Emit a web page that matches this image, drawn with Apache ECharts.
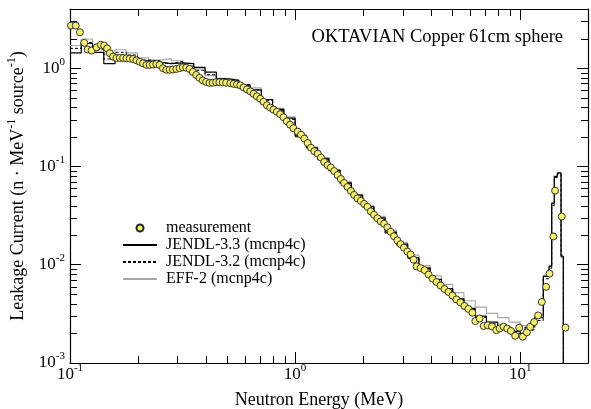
<!DOCTYPE html>
<html>
<head>
<meta charset="utf-8">
<script src="https://cdn.jsdelivr.net/npm/echarts@6/dist/echarts.min.js"></script>
<style>
  html, body { margin: 0; padding: 0; background: #fff; }
  #chart { width: 591px; height: 409px; }
</style>
</head>
<body>
<div id="chart"></div>
<script>
// Measured leakage spectrum: neutron energy (MeV) and current (n/MeV/source)
const measE = [0.101,0.106,0.1107,0.1157,0.1198,0.1247,0.1313,0.1371,0.1418,0.1462,
  0.1503,0.1554,0.1609,0.1664,0.1721,0.1781,0.1842,0.1906,0.1973,0.2041,
  0.2111,0.2185,0.2259,0.2336,0.2418,0.2501,0.2587,0.2679,0.277,0.2865,
  0.2966,0.3068,0.3172,0.3284,0.3396,0.3512,0.3636,0.3761,0.3889,0.4026,
  0.4164,0.4306,0.4457,0.4609,0.4767,0.4935,0.5156,0.5333,0.552,0.5709,
  0.5903,0.6112,0.6321,0.6537,0.6766,0.6997,0.7238,0.7495,0.7751,0.8015,
  0.8297,0.8582,0.8875,0.9188,0.9502,0.9827,1.027,1.063,1.099,1.137,
  1.176,1.217,1.260,1.303,1.347,1.394,1.442,1.491,1.544,1.597,
  1.651,1.710,1.769,1.829,1.893,1.958,2.026,2.096,2.168,2.242,
  2.322,2.401,2.483,2.569,2.658,2.749,2.846,2.944,3.044,3.152,
  3.259,3.360,3.464,3.609,3.760,3.916,4.079,4.248,4.425,4.609,
  4.801,5.000,5.207,5.424,5.650,5.884,6.129,6.318,6.600,6.878,
  7.177,7.490,7.827,8.109,8.431,8.754,9.091,9.497,9.892,10.27,
  10.70,11.07,11.53,12.01,12.47,13.03,13.49,14.04,14.28,15.29,
  15.89];
const measV = [2.71,2.71,2.32,1.81,1.55,1.51,1.63,1.73,1.70,1.59,
  1.42,1.31,1.27,1.27,1.27,1.26,1.25,1.24,1.20,1.16,
  1.12,1.08,1.08,1.09,1.10,1.08,1.00,0.963,0.963,0.970,
  0.981,1.00,1.02,1.01,0.981,0.915,0.853,0.796,0.751,0.725,
  0.708,0.711,0.720,0.720,0.716,0.711,0.703,0.692,0.684,0.668,
  0.637,0.608,0.581,0.548,0.517,0.488,0.455,0.419,0.397,0.379,
  0.360,0.340,0.317,0.288,0.266,0.245,0.226,0.210,0.192,0.173,
  0.155,0.143,0.135,0.123,0.111,0.103,0.0975,0.0898,0.0818,0.0745,
  0.0679,0.0618,0.0563,0.0513,0.0473,0.0446,0.0416,0.0388,0.0349,0.0322,
  0.0297,0.0276,0.0261,0.0240,0.0216,0.0195,0.0177,0.0162,0.0149,0.0136,
  0.0127,0.01126,0.00963,0.00924,0.00882,0.00794,0.00723,0.00666,0.00614,0.00566,
  0.00528,0.00486,0.00443,0.00413,0.00381,0.00355,0.00325,0.00267,0.00284,0.00238,
  0.00242,0.00236,0.00216,0.00225,0.00234,0.00224,0.00212,0.00189,0.00229,0.00185,
  0.00205,0.00233,0.00261,0.00305,0.00418,0.00596,0.00812,0.0194,0.0567,0.0309,
  0.00229];

// Energy bin edges (MeV) shared by the three mcnp4c tallies
const binEdges = [0.1,0.1122,0.1259,0.1413,0.1585,0.1778,0.1995,0.2239,0.2512,0.2818,
  0.3162,0.3548,0.3981,0.4467,0.5012,0.5623,0.6310,0.7079,0.7943,0.8913,
  1.0,1.122,1.259,1.413,1.585,1.778,1.995,2.239,2.512,2.818,
  3.162,3.548,3.981,4.467,5.012,5.623,6.310,7.079,7.943,8.913,
  10.0,10.5,11.0,11.6,12.66,13.43,13.8,14.17,14.62,15.18,15.54];

// Tally value in each bin
const jendl33 = [1.43,1.79,1.45,1.11,1.29,1.27,1.19,1.15,1.11,1.13,
  1.11,1.02,0.91,0.78,0.75,0.67,0.60,0.48,0.38,0.31,
  0.205,0.155,0.12,0.091,0.068,0.051,0.039,0.030,0.0215,0.0162,
  0.0118,0.0093,0.0071,0.0057,0.0045,0.0036,0.0030,0.0026,0.0023,0.0021,
  0.0020,0.0023,0.0024,0.0029,0.0076,0.0096,0.042,0.079,0.086,0.0122];
const jendl32 = [1.59,1.83,1.54,1.24,1.45,1.36,1.21,1.19,1.12,1.17,
  1.05,0.95,0.86,0.78,0.74,0.68,0.60,0.47,0.37,0.30,
  0.20,0.152,0.118,0.090,0.067,0.050,0.038,0.029,0.021,0.0158,
  0.0116,0.0091,0.0070,0.0056,0.0044,0.0035,0.0029,0.0025,0.0022,0.0020,
  0.0019,0.0021,0.0022,0.0027,0.0072,0.0092,0.040,0.077,0.084,0.0125];
const eff2 = [1.70,1.98,1.63,1.37,1.54,1.43,1.27,1.21,1.25,1.19,
  1.11,0.985,0.84,0.79,0.76,0.68,0.63,0.48,0.39,0.32,
  0.21,0.158,0.123,0.093,0.070,0.052,0.040,0.031,0.0225,0.0168,
  0.0125,0.0098,0.0077,0.0063,0.0052,0.0043,0.0037,0.0032,0.0029,0.0026,
  0.0024,0.0024,0.0025,0.0030,0.0078,0.0098,0.043,0.080,0.085,0.0118];

// Minor tick positions for the log axes
const xMinorTicks = [0.2,0.3,0.4,0.5,0.6,0.7,0.8,0.9,2,3,4,5,6,7,8,9];
const yMinorTicks = [0.002,0.003,0.004,0.005,0.006,0.007,0.008,0.009,
  0.02,0.03,0.04,0.05,0.06,0.07,0.08,0.09,
  0.2,0.3,0.4,0.5,0.6,0.7,0.8,0.9,2,3];

const FONT = 'Liberation Serif';
const FLOOR = 1e-4; // below the axis: closes each histogram off the bottom edge

// Step outline of a tally: left edge of each bin, then a drop at the last right edge
function histogram(values) {
  const pts = values.map((v, i) => [binEdges[i], v]);
  pts.push([binEdges[values.length], FLOOR]);
  return pts;
}

function powLabel(v) {
  const e = Math.log10(v);
  const n = Math.round(e);
  if (Math.abs(e - n) > 1e-6) return '';
  return '10{sup|' + n + '}';
}

const supStyle = { fontSize: 11, fontFamily: FONT, color: '#000', padding: [0, 0, 13, 0] };
const frameLine = { show: true, lineStyle: { color: '#000', width: 1.2 } };
const majorTick = { show: true, inside: true, length: 11, lineStyle: { color: '#000', width: 1 } };

function minorTickRenderer(isX) {
  return function (params, api) {
    const cs = params.coordSys;
    const len = 7;
    const style = { stroke: '#000', lineWidth: 1 };
    if (isX) {
      const x = Math.round(api.coord([api.value(0), 1])[0]) + 0.5;
      const b = cs.y + cs.height, t = cs.y;
      return { type: 'group', children: [
        { type: 'line', shape: { x1: x, y1: b, x2: x, y2: b - len }, style: style },
        { type: 'line', shape: { x1: x, y1: t, x2: x, y2: t + len }, style: style }
      ] };
    }
    const y = Math.round(api.coord([1, api.value(1)])[1]) + 0.5;
    const l = cs.x, r = cs.x + cs.width;
    return { type: 'group', children: [
      { type: 'line', shape: { x1: l, y1: y, x2: l + len, y2: y }, style: style },
      { type: 'line', shape: { x1: r, y1: y, x2: r - len, y2: y }, style: style }
    ] };
  };
}

const lineOnly = { opacity: 0 };

const chart = echarts.init(document.getElementById('chart'), null, { renderer: 'canvas' });

chart.setOption({
  animation: false,
  backgroundColor: '#fff',
  title: {
    text: 'OKTAVIAN Copper 61cm sphere',
    right: 28, top: 28, padding: 0,
    textStyle: { fontFamily: FONT, fontSize: 18.5, fontWeight: 'normal', color: '#000' }
  },
  legend: {
    data: [
      { name: 'measurement' },
      { name: 'JENDL-3.3 (mcnp4c)', itemStyle: lineOnly },
      { name: 'JENDL-3.2 (mcnp4c)', itemStyle: lineOnly },
      { name: 'EFF-2 (mcnp4c)', itemStyle: lineOnly }
    ],
    orient: 'vertical',
    left: 122, top: 220,
    itemWidth: 34, itemHeight: 7, itemGap: 1,
    padding: 0,
    textStyle: { fontFamily: FONT, fontSize: 16, color: '#000', padding: [0, 0, 0, 4] }
  },
  grid: { left: 70, right: 3, top: 9, bottom: 46, containLabel: false, outerBoundsMode: 'none' },
  xAxis: [
    {
      type: 'log', logBase: 10, min: 0.1, max: 20, position: 'bottom',
      axisLine: frameLine, axisTick: majorTick, splitLine: { show: false },
      axisLabel: { formatter: powLabel, margin: 0, color: '#000', fontFamily: FONT, fontSize: 17, rich: { sup: supStyle } },
      name: 'Neutron Energy (MeV)', nameLocation: 'middle', nameGap: 28,
      nameTextStyle: { fontFamily: FONT, fontSize: 18, color: '#000', padding: [0, 20, 0, 0] }
    },
    {
      type: 'log', logBase: 10, min: 0.1, max: 20, position: 'top',
      axisLine: frameLine, axisTick: majorTick, splitLine: { show: false },
      axisLabel: { show: false }
    }
  ],
  yAxis: [
    {
      type: 'log', logBase: 10, min: 0.001, max: 4, position: 'left',
      axisLine: frameLine, axisTick: majorTick, splitLine: { show: false },
      axisLabel: { formatter: powLabel, margin: 5, color: '#000', fontFamily: FONT, fontSize: 17, rich: { sup: supStyle } },
      name: 'Leakage Current (n · MeV{sup|-1} source{sup|-1})',
      nameLocation: 'middle', nameRotate: 90, nameGap: 40,
      nameTextStyle: {
        fontFamily: FONT, fontSize: 18, color: '#000',
        rich: { sup: { fontSize: 12, fontFamily: FONT, color: '#000', padding: [0, 0, 12, 0] } }
      }
    },
    {
      type: 'log', logBase: 10, min: 0.001, max: 4, position: 'right',
      axisLine: frameLine, axisTick: majorTick, splitLine: { show: false },
      axisLabel: { show: false }
    }
  ],
  series: [
    {
      name: 'EFF-2 (mcnp4c)', type: 'line', step: 'end', symbol: 'none',
      data: histogram(eff2),
      lineStyle: { color: '#a8a8a8', width: 1.2 }, itemStyle: { color: '#a8a8a8' }, z: 2
    },
    {
      name: 'JENDL-3.2 (mcnp4c)', type: 'line', step: 'end', symbol: 'none',
      data: histogram(jendl32),
      lineStyle: { color: '#000', width: 1, type: [3, 2] }, itemStyle: { color: '#000' }, z: 3
    },
    {
      name: 'JENDL-3.3 (mcnp4c)', type: 'line', step: 'end', symbol: 'none',
      data: histogram(jendl33),
      lineStyle: { color: '#000', width: 1.2 }, itemStyle: { color: '#000' }, z: 4
    },
    {
      name: 'measurement', type: 'scatter', symbol: 'circle', symbolSize: 7,
      data: measE.map((e, i) => [e, measV[i]]),
      itemStyle: { color: '#f6f06a', borderColor: '#222', borderWidth: 0.9, opacity: 1 }, z: 5
    },
    {
      type: 'custom', silent: true, z: 6,
      data: xMinorTicks.map(v => [v, 1]),
      renderItem: minorTickRenderer(true)
    },
    {
      type: 'custom', silent: true, z: 6,
      data: yMinorTicks.map(v => [1, v]),
      renderItem: minorTickRenderer(false)
    }
  ]
});
</script>
</body>
</html>
